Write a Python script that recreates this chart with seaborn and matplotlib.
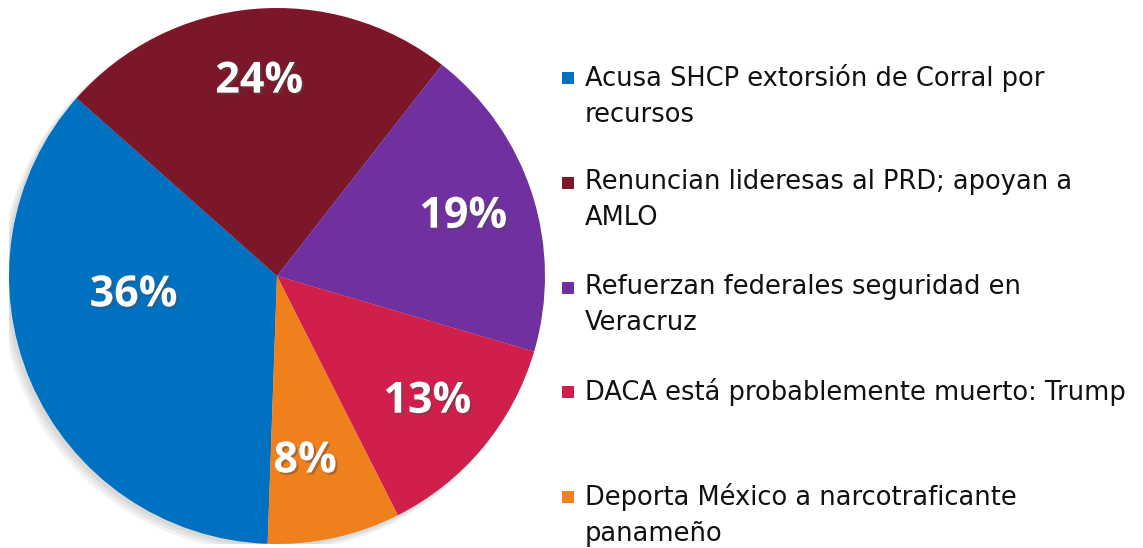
import matplotlib
matplotlib.use("Agg")
import matplotlib.pyplot as plt
import matplotlib.patheffects as pe
from matplotlib.patches import Circle, Rectangle
import numpy as np
import seaborn as sns

sns.set_theme(style="white")
plt.rcParams['font.family'] = ['Open Sans', 'DejaVu Sans']

# datos
temas = [
    "Acusa SHCP extorsión de Corral por\nrecursos",
    "Renuncian lideresas al PRD; apoyan a\nAMLO",
    "Refuerzan federales seguridad en\nVeracruz",
    "DACA está probablemente muerto: Trump",
    "Deporta México a narcotraficante\npanameño",
]
porcentajes = [36, 24, 19, 13, 8]
colores = ["#0070C0", "#7B1729", "#7030A0", "#D01F4B", "#F0801C"]
paleta = sns.color_palette(colores)

fig = plt.figure(figsize=(11.43, 5.48), dpi=100)
W, H = 1143, 548
ax = fig.add_axes([9 / W, 4 / H, 536 / W, 536 / H])

# sombra suave detras del pastel
for k, a in enumerate([0.05, 0.05, 0.05]):
    ax.add_patch(Circle((-0.012 - 0.006 * k, -0.012 - 0.006 * k), 1.0 + 0.004 * k,
                        color="black", alpha=a, zorder=0, lw=0))

wedges, _, autotexts = ax.pie(
    porcentajes, colors=paleta, startangle=-92, counterclock=False,
    autopct="%1.0f%%", pctdistance=0.73,
    wedgeprops=dict(linewidth=0),
    textprops=dict(color="white", fontsize=31, fontweight="bold"),
)
for t in autotexts:
    t.set_path_effects([pe.SimplePatchShadow(offset=(1.5, -1.5), alpha=0.45), pe.Normal()])

# la etiqueta del 36% esta mas hacia el centro izquierdo
ang = np.deg2rad(187.5)
autotexts[0].set_position((0.54 * np.cos(ang), 0.54 * np.sin(ang)))
autotexts[4].set_position((0.105, -0.69))

ax.set_xlim(-1.0, 1.0)
ax.set_ylim(-1.0, 1.0)
ax.set_aspect("equal")
ax.axis("off")

# leyenda manual (estilo Excel, espaciado fijo)
for i, (txt, c) in enumerate(zip(temas, paleta)):
    y = 78 + 104.8 * i
    fig.patches.append(Rectangle((562 / W, 1 - (y + 6) / H), 12 / W, 12 / H,
                                 transform=fig.transFigure, color=c, lw=0))
    fig.text(585 / W, 1 - (y - 14) / H, txt, fontsize=18.5, color="#111111",
             family="DejaVu Sans", va="top", ha="left", linespacing=1.5)

fig.savefig("out.png", dpi=100)
